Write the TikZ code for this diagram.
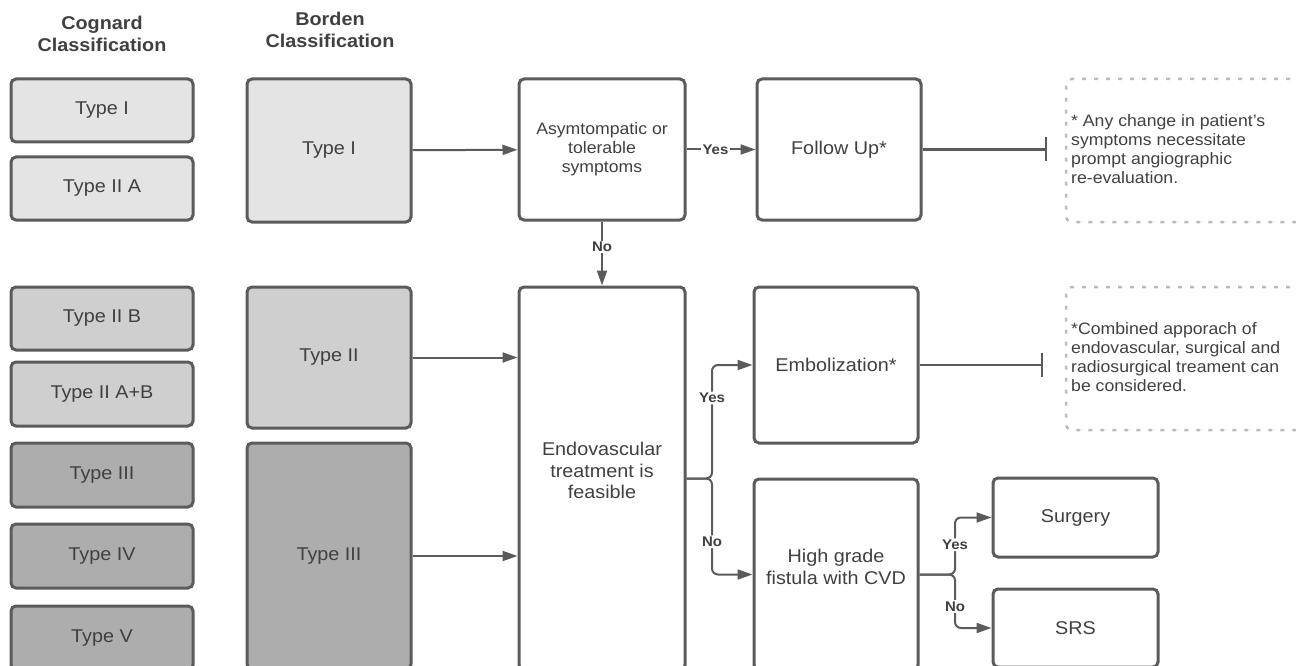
\documentclass[tikz,border=0pt]{standalone}
\usepackage{fontspec}
\setmainfont{Liberation Sans}[FakeStretch=1.07]
\usetikzlibrary{arrows.meta,fit}
\definecolor{edge}{HTML}{5B5B5B}
\definecolor{txt}{HTML}{404040}
\definecolor{lightf}{HTML}{E4E4E4}
\definecolor{midf}{HTML}{CFCFCF}
\definecolor{darkf}{HTML}{ADADAD}
\definecolor{dashc}{HTML}{BBBBBB}
\tikzset{
  box/.style={draw=edge, line width=3pt, rounded corners=5pt, inner sep=0pt,
    align=center, text=txt, font=\fontsize{18.5}{21.5}\selectfont},
  sz/.style 2 args={minimum width=#1pt, minimum height=#2pt},
  smalltext/.style={font=\fontsize{16.5}{19}\selectfont},
  notebox/.style={draw=dashc, line width=2.5pt, dash pattern=on 4pt off 8pt,
    rounded corners=6pt, inner sep=0pt},
  notetext/.style={text=txt, align=left, inner sep=0pt, font=\fontsize{16.5}{19}\selectfont},
  hdr/.style={text=txt, align=center, font=\bfseries\fontsize{18.5}{22}\selectfont},
  conn/.style={draw=edge, line width=2pt, -{Triangle[length=15pt,width=10pt]}},
  barconn/.style={draw=edge, line width=2.2pt, -{Bar[width=24pt,line width=2.5pt]}},
  lbl/.style={fill=white, text=txt, inner sep=1.5pt, font=\bfseries\fontsize{14}{16}\selectfont},
}
\begin{document}
\begin{tikzpicture}[x=1pt,y=-1pt]
\useasboundingbox (0,0) rectangle (1296,666);
\clip (0,0) rectangle (1296,666);
% headers
\node[hdr] (h1) at (102,34) {Cognard\\Classification};
\node[hdr] (h2) at (330,30) {Borden\\Classification};
% Cognard column
\node[box, fill=lightf, sz={182}{63}] (c1) at (102,110.5) {Type I};
\node[box, fill=lightf, sz={182}{63}] (c2) at (102,188.5) {Type II A};
\node[box, fill=midf, sz={182}{63}] (c3) at (102,318.5) {Type II B};
\node[box, fill=midf, sz={182}{64}] (c4) at (102,394) {Type II A+B};
\node[box, fill=darkf, sz={182}{64}] (c5) at (102,475) {Type III};
\node[box, fill=darkf, sz={182}{64}] (c6) at (102,556) {Type IV};
\node[box, fill=darkf, sz={182}{64}] (c7) at (102,638) {Type V};
% Borden column
\node[box, fill=lightf, sz={164}{143}] (b1) at (329,150.5) {Type I};
\node[box, fill=midf, sz={164}{141}] (b2) at (329,357.5) {Type II};
\node[box, fill=darkf, sz={164}{226}] (b3) at (329,556) {Type III};
% flow boxes
\node[box, smalltext, fill=white, sz={166}{141}] (asym) at (602,149.5) {Asymtompatic or\\tolerable\\symptoms};
\node[box, fill=white, sz={164}{141}] (fu) at (839,149.5) {Follow Up*};
\node[box, fill=white, sz={166}{383}] (endo) at (602,478.5) {Endovascular\\treatment is\\feasible\\[-6pt]};
\node[box, fill=white, sz={164}{156}] (emb) at (836,365) {Embolization*};
\node[box, fill=white, sz={164}{191}] (hg) at (836,574.5) {High grade\\fistula with CVD\\[-6pt]};
\node[box, fill=white, sz={165}{79}] (surg) at (1075.5,517.5) {Surgery};
\node[box, fill=white, sz={165}{78}] (srs) at (1075.5,628) {SRS};
% notes
\node[notebox, fit={(1066,79) (1320,222)}] (n1) {};
\node[notetext, anchor=west] (n1t) at (1071,149) {* Any change in patient's\\symptoms necessitate\\prompt angiographic\\re-evaluation.};
\node[notebox, fit={(1066,287) (1320,430)}] (n2) {};
\node[notetext, anchor=west] (n2t) at (1071,357) {*Combined apporach of\\endovascular, surgical and\\radiosurgical treament can\\be considered.};
% connectors
\draw[conn] (b1) -- (asym);
\draw[conn] (b2.east) -- (b2.east -| endo.west);
\draw[conn] (b3.east) -- (b3.east -| endo.west);
\draw[conn] (asym) -- node[lbl, pos=0.42] {Yes} (fu);
\draw[conn] (asym) -- node[lbl, pos=0.4] {No} (endo);
\coordinate (s1) at (712,478.5);
\draw[conn, rounded corners=6pt] (endo.east) -- (s1) |- node[lbl, pos=0.355] {Yes} (emb.west);
\draw[conn, rounded corners=6pt] (endo.east) -- (s1) |- node[lbl, pos=0.33] {No} (hg.west);
\coordinate (s2) at (955,574.5);
\draw[conn, rounded corners=6pt] (hg.east) -- (s2) |- node[lbl, pos=0.26] {Yes} (surg.west);
\draw[conn, rounded corners=6pt] (hg.east) -- (s2) |- node[lbl, pos=0.3] {No} (srs.west);
\coordinate (t1) at (1047,149.5);
\coordinate (t2) at (1043,365);
\draw[barconn] (fu.east) -- (t1);
\draw[barconn] (emb.east) -- (t2);
\end{tikzpicture}
\end{document}
